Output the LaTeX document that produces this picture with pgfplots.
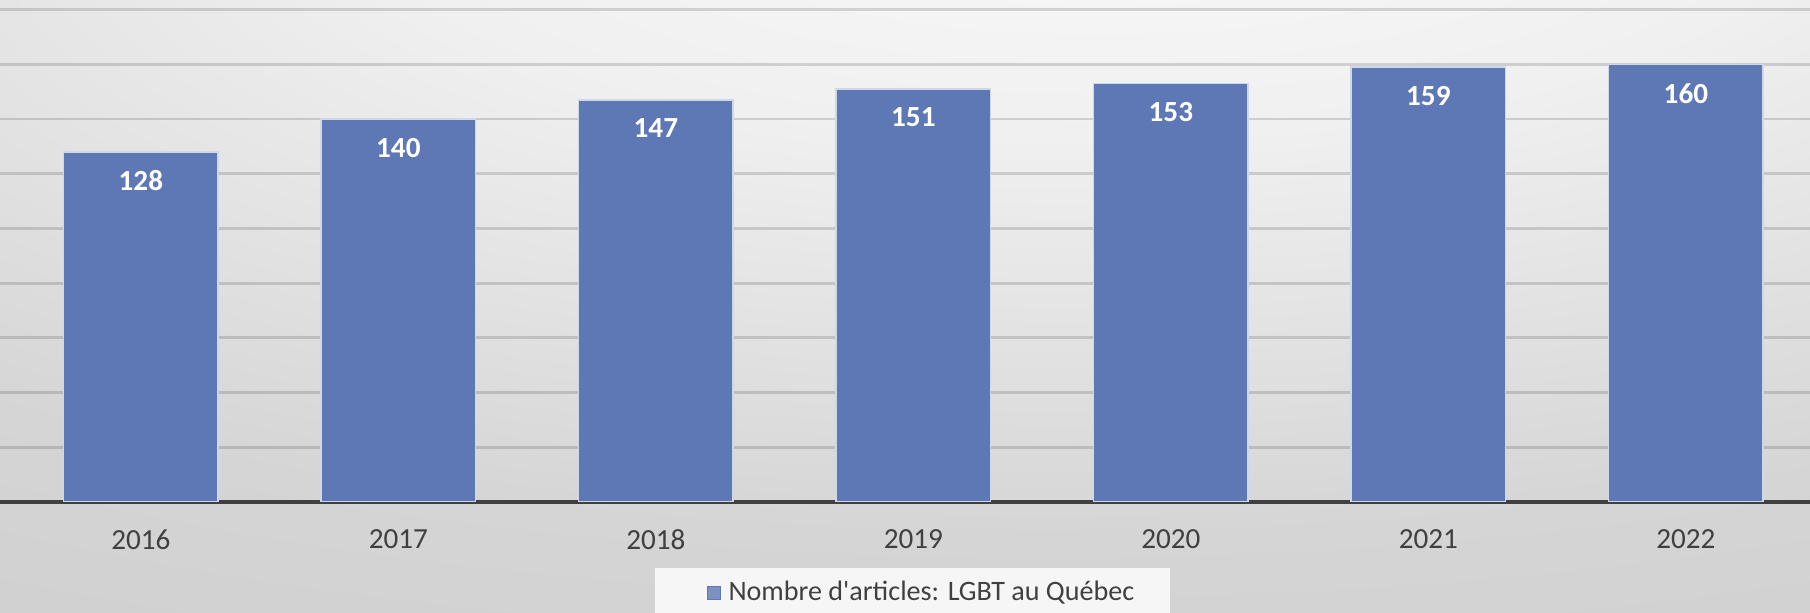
\documentclass[border=0pt]{standalone}
\usepackage{pgfplots}
\pgfplotsset{compat=1.18}
\usepackage{fontspec}
\setmainfont{Carlito}
\definecolor{barblue}{RGB}{94,120,182}
\definecolor{txtgray}{RGB}{64,64,64}
\definecolor{bgA}{RGB}{251,251,251}
\definecolor{bgB}{RGB}{240,240,240}
\definecolor{bgC}{RGB}{213,213,213}
\definecolor{bgD}{RGB}{205,205,205}
\definecolor{bgE}{RGB}{195,195,195}
\pgfdeclareradialshading{bgshade}{\pgfpoint{6bp}{40bp}}{color(0bp)=(bgA); color(20bp)=(bgB); color(45bp)=(bgC); color(65bp)=(bgD); color(100bp)=(bgE); color(130bp)=(bgE)}
\begin{document}
\begin{tikzpicture}
\shade[shading=bgshade] (0,-1.11cm) rectangle (18.1cm,5.02cm);
\begin{axis}[
  scale only axis, width=18.1cm, height=5.02cm,
  at={(0,0)}, anchor=south west,
  xmin=-0.547, xmax=6.482, ymin=0, ymax=183.5,
  axis line style={draw=none},
  tick style={draw=none},
  ytick={20,40,...,180}, yticklabels={},
  ymajorgrids, grid style={draw=black, draw opacity=0.14, line width=0.8pt},
  extra y ticks={0}, extra y tick labels={},
  extra y tick style={grid style={draw=txtgray, draw opacity=1, line width=1.3pt}},
  xtick={0,1,2,3,4,5,6},
  xticklabels={2016,2017,2018,2019,2020,2021,2022},
  xticklabel style={font=\fontsize{8.3}{10}\selectfont, text=txtgray, yshift=-1.5mm},
  legend style={at={(0.5041,-0.1295)}, anchor=north, draw=none, fill=white, fill opacity=0.8, text opacity=1,
    inner xsep=5.15mm, inner ysep=0.6mm, font=\fontsize{8}{10}\selectfont, text=txtgray},
  legend image code/.code={\fill[barblue] (0mm,-0.65mm) rectangle (1.35mm,0.65mm);},
]
\addplot[ybar, bar width=0.6, fill=barblue, draw=white!70!barblue, line width=0.4pt,
  nodes near coords,
  every node near coord/.append style={anchor=north, yshift=-0.65mm, text=white,
    font=\bfseries\fontsize{8.3}{10}\selectfont, /pgf/number format/assume math mode=true}]
  coordinates {(0,128) (1,140) (2,147) (3,151) (4,153) (5,159) (6,160)};
\addlegendentry{Nombre d\textquotesingle articles: LGBT au Québec\hspace*{-2.3mm}}
\end{axis}
\pgfresetboundingbox
\path[use as bounding box] (0,-1.11cm) rectangle (18.1cm,5.02cm);
\end{tikzpicture}
\end{document}
